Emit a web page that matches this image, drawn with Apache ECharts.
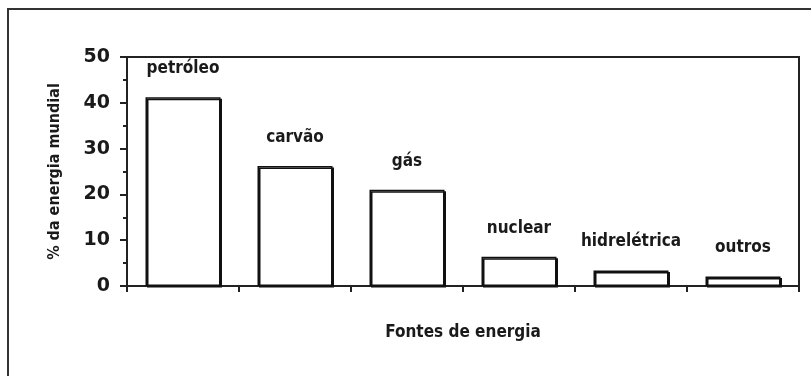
<!DOCTYPE html>
<html>
<head>
<meta charset="utf-8">
<script src="https://cdn.jsdelivr.net/npm/echarts@6/dist/echarts.min.js"></script>
<style>
html,body{margin:0;padding:0;background:#fff;}
#chart{width:811px;height:376px;}
</style>
</head>
<body>
<div id="chart"></div>
<script>
var categories = ['petróleo', 'carvão', 'gás', 'nuclear', 'hidrelétrica', 'outros'];
var values = [41.2, 26.2, 21, 6.4, 3.4, 2.1];
var yTicks = [0, 10, 20, 30, 40, 50];
var yAxisName = '% da energia mundial';
var xAxisName = 'Fontes de energia';

var narrow = '"DejaVu Sans Condensed", "DejaVu Sans", sans-serif';
var chart = echarts.init(document.getElementById('chart'));
chart.setOption({
  animation: false,
  backgroundColor: '#fff',
  graphic: [{
    type: 'rect',
    shape: { x: 8, y: 9, width: 830, height: 400 },
    style: { fill: null, stroke: '#333', lineWidth: 2 },
    z: 100
  }],
  grid: {
    left: 127, right: 12, top: 57, bottom: 90,
    show: true, borderColor: '#222', borderWidth: 2, backgroundColor: 'transparent'
  },
  xAxis: {
    type: 'category',
    data: categories,
    name: xAxisName,
    nameLocation: 'middle',
    nameGap: 38,
    nameTextStyle: { fontFamily: narrow, fontWeight: 'bold', fontSize: 17, color: '#1a1a1a' },
    axisLine: { lineStyle: { color: '#222', width: 2 } },
    axisTick: { show: true, alignWithLabel: false, length: 6, lineStyle: { color: '#222', width: 2 } },
    axisLabel: { show: false },
    splitLine: { show: false }
  },
  yAxis: {
    type: 'value',
    min: yTicks[0],
    max: yTicks[yTicks.length - 1],
    interval: 10,
    name: yAxisName,
    nameLocation: 'middle',
    nameGap: 64,
    nameTextStyle: { fontFamily: narrow, fontWeight: 'bold', fontSize: 16, color: '#1a1a1a' },
    axisLine: { show: true, lineStyle: { color: '#222', width: 2 } },
    axisTick: { show: true, length: 7, lineStyle: { color: '#222', width: 2 } },
    minorTick: { show: true, splitNumber: 2, length: 4, lineStyle: { color: '#222', width: 2 } },
    axisLabel: { margin: 17, fontFamily: '"DejaVu Sans", sans-serif', fontWeight: 'bold', fontSize: 19, color: '#1a1a1a' },
    splitLine: { show: false }
  },
  series: [{
    type: 'bar',
    data: values,
    barWidth: 75,
    itemStyle: {
      color: '#fff',
      borderColor: '#111',
      borderWidth: 1.5,
      shadowColor: '#111',
      shadowBlur: 0,
      shadowOffsetX: 1.5,
      shadowOffsetY: 1.5
    },
    label: {
      show: true,
      position: 'top',
      distance: 20,
      formatter: '{b}',
      fontFamily: narrow,
      fontWeight: 'bold',
      fontSize: 17,
      color: '#1a1a1a'
    }
  }]
});
</script>
</body>
</html>
